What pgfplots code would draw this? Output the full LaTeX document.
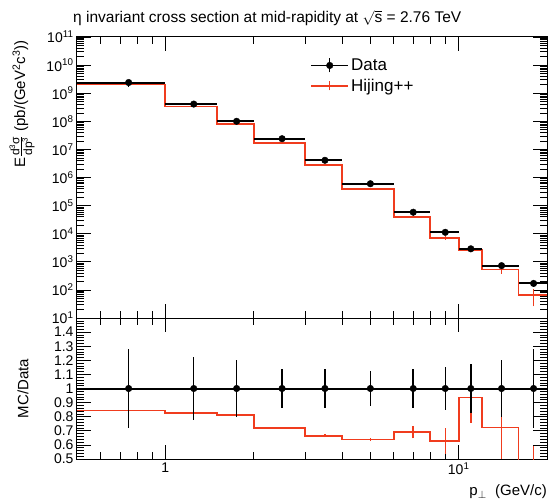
\documentclass[border=0pt]{standalone}
\usepackage{fontspec}
\setmainfont{Liberation Sans}
\usepackage{pgfplots}
\pgfplotsset{compat=1.18}
\definecolor{mcred}{RGB}{240,60,30}
\pgfplotsset{mcerr/.style={mcred, line width=1.5pt, mark=none, forget plot}}
\begin{document}
\begin{tikzpicture}[x=1pt,y=1pt]
\node[anchor=west, font=\fontsize{15.5}{18}\selectfont, inner sep=0pt] at (73pt,-18pt) {η invariant cross section at mid-rapidity at $\sqrt{\mbox{s}}$ = 2.76 TeV};

\begin{axis}[at={(77pt,-37pt)}, anchor=north west,
  scale only axis, width=470pt, height=281pt,
  xmode=log, xmin=0.5, xmax=20,
  ymode=log, ymin=1e1, ymax=1e11,
  tick align=inside, xtick pos=both, ytick pos=both,
  major tick length=14pt, minor tick length=7pt,
  axis line style={line width=1pt},
  every major tick/.append style={black, line width=0.8pt},
  every minor tick/.append style={black, line width=0.6pt},
  xtick={1,10}, minor xtick={0.6,0.7,0.8,0.9,2,3,4,5,6,7,8,9},
  xticklabels={,},
  tick label style={font=\fontsize{14}{16}\selectfont},
  ytick={1e1,1e2,1e3,1e4,1e5,1e6,1e7,1e8,1e9,1e10,1e11},
  yticklabels={10\textsuperscript{1},10\textsuperscript{2},10\textsuperscript{3},10\textsuperscript{4},10\textsuperscript{5},10\textsuperscript{6},10\textsuperscript{7},10\textsuperscript{8},10\textsuperscript{9},10\textsuperscript{10},10\textsuperscript{11}},
  minor ytick={2e1,3e1,4e1,5e1,6e1,7e1,8e1,9e1,
    2e2,3e2,4e2,5e2,6e2,7e2,8e2,9e2,
    2e3,3e3,4e3,5e3,6e3,7e3,8e3,9e3,
    2e4,3e4,4e4,5e4,6e4,7e4,8e4,9e4,
    2e5,3e5,4e5,5e5,6e5,7e5,8e5,9e5,
    2e6,3e6,4e6,5e6,6e6,7e6,8e6,9e6,
    2e7,3e7,4e7,5e7,6e7,7e7,8e7,9e7,
    2e8,3e8,4e8,5e8,6e8,7e8,8e8,9e8,
    2e9,3e9,4e9,5e9,6e9,7e9,8e9,9e9,
    2e10,3e10,4e10,5e10,6e10,7e10,8e10,9e10},
  ylabel={E$\frac{\mbox{\fontsize{12}{12}\selectfont d\textsuperscript{3}σ}}{\mbox{\fontsize{12}{12}\selectfont dp\textsuperscript{3}}}$ (pb/(GeV\textsuperscript{2}c\textsuperscript{3}))},
  ylabel style={at={(axis description cs:-0.117,1)}, anchor=east, font=\fontsize{15}{17}\selectfont},
  legend style={at={(axis description cs:0.496,0.93)}, anchor=north west, draw=none, fill=none,
    font=\fontsize{17}{19}\selectfont, row sep=3pt, inner sep=0pt},
  legend cell align=left,
]
% MC histogram
\addplot[const plot, mcred, line width=1.8pt, forget plot] coordinates {
 (0.5,2.03e9) (1,3.38e8) (1.5,8.1e7) (2,1.73e7) (3,2.73e6) (4,3.83e5)
 (6,4.0e4) (8,7.0e3) (10,2.71e3) (12,5.3e2) (16,66) (20,66)};
% MC statistical errors
\addplot[mcerr] coordinates {(7,3.72e4) (7,4.28e4)};
\addplot[mcerr] coordinates {(9,6.0e3) (9,8.0e3)};
\addplot[mcerr] coordinates {(11,2.21e3) (11,3.21e3)};
\addplot[mcerr] coordinates {(14,380) (14,680)};
\addplot[mcerr] coordinates {(18,26) (18,106)};
% Data horizontal (bin width)
\addplot[black, only marks, mark=*, mark options={opacity=0}, forget plot,
  error bars/.cd, x dir=both, x explicit, error mark=none,
  error bar style={line width=2pt, black}] coordinates {
 (0.75,2.4e9) +- (0.25,0)
 (1.25,4.1e8) +- (0.25,0)
 (1.75,1.0e8) +- (0.25,0)
 (2.5,2.4e7) +- (0.5,0)
 (3.5,4.1e6) +- (0.5,0)
 (5,6.0e5) +- (1,0)
 (7,5.8e4) +- (1,0)
 (9,1.12e4) +- (1,0)
 (11,2.9e3) +- (1,0)
 (14,730) +- (2,0)
 (18,170) +- (2,0)};
% Data points with vertical errors
\addplot[black, only marks, mark=*, mark size=3.3pt, forget plot,
  error bars/.cd, y dir=both, y explicit, error mark=none,
  error bar style={line width=1.5pt, black}] coordinates {
 (0.75,2.4e9) +- (0,6.7e8)
 (1.25,4.1e8) +- (0,9.0e7)
 (1.75,1.0e8) +- (0,2.0e7)
 (2.5,2.4e7) +- (0,3.2e6)
 (3.5,4.1e6) +- (0,5.5e5)
 (5,6.0e5) +- (0,7.5e4)
 (7,5.8e4) +- (0,8.1e3)
 (9,1.12e4) +- (0,1.7e3)
 (11,2.9e3) +- (0,5.1e2)
 (14,730) +- (0,146)
 (18,170) +- (0,48)};
\addlegendimage{legend image code/.code={
  \draw[black, line width=1.8pt] (0pt,0pt) -- (37pt,0pt);
  \draw[black, line width=1.5pt] (18.5pt,-7pt) -- (18.5pt,7pt);
  \fill[black] (18.5pt,0pt) circle (3.3pt);}}
\addlegendentry{Data}
\addlegendimage{legend image code/.code={
  \draw[mcred, line width=1.8pt] (0pt,0pt) -- (37pt,0pt);
  \draw[mcred, line width=1.3pt] (18.5pt,-4.5pt) -- (18.5pt,4.5pt);}}
\addlegendentry{Hijing++}
\end{axis}

\begin{axis}[at={(77pt,-318pt)}, anchor=north west,
  scale only axis, width=470pt, height=141pt,
  xmode=log, xmin=0.5, xmax=20,
  ymin=0.5, ymax=1.5,
  tick align=inside, xtick pos=both, ytick pos=both,
  major tick length=14pt, minor tick length=7pt,
  axis line style={line width=1pt},
  every major tick/.append style={black, line width=0.8pt},
  every minor tick/.append style={black, line width=0.6pt},
  xtick={1,10}, minor xtick={0.6,0.7,0.8,0.9,2,3,4,5,6,7,8,9},
  tick label style={font=\fontsize{14}{16}\selectfont},
  ytick={0.5,0.6,0.7,0.8,0.9,1,1.1,1.2,1.3,1.4,1.5},
  yticklabels={0.5,0.6,0.7,0.8,0.9,1,1.1,1.2,1.3,1.4,},
  minor y tick num=4,
  xticklabels={1,\raisebox{-6pt}{10\textsuperscript{1}}},
  xlabel={p$_{\perp}$ \ (GeV/c)},
  xlabel style={at={(axis description cs:1,-0.234)}, anchor=east, inner sep=0pt, font=\fontsize{15}{17}\selectfont},
  ylabel={MC/Data},
  ylabel style={at={(axis description cs:-0.115,0.5)}, anchor=center, font=\fontsize{15}{17}\selectfont},
]
\addplot[const plot, mcred, line width=1.8pt, forget plot] coordinates {
 (0.5,0.844) (1,0.825) (1.5,0.813) (2,0.719) (3,0.665) (4,0.638)
 (6,0.691) (8,0.629) (10,0.936) (12,0.723) (16,0.39) (20,0.39)};
\addplot[mcerr] coordinates {(3.5,0.655) (3.5,0.675)};
\addplot[mcerr] coordinates {(5,0.626) (5,0.650)};
\addplot[mcerr] coordinates {(7,0.646) (7,0.736)};
\addplot[mcerr] coordinates {(9,0.539) (9,0.719)};
\addplot[mcerr] coordinates {(11,0.756) (11,1.116)};
\addplot[mcerr] coordinates {(14,0.503) (14,0.943)};
\addplot[mcerr] coordinates {(18,0.19) (18,0.59)};
\addplot[black, only marks, mark=*, mark options={opacity=0}, forget plot,
  error bars/.cd, x dir=both, x explicit, error mark=none,
  error bar style={line width=2pt, black}] coordinates {
 (0.75,1) +- (0.25,0)
 (1.25,1) +- (0.25,0)
 (1.75,1) +- (0.25,0)
 (2.5,1) +- (0.5,0)
 (3.5,1) +- (0.5,0)
 (5,1) +- (1,0)
 (7,1) +- (1,0)
 (9,1) +- (1,0)
 (11,1) +- (1,0)
 (14,1) +- (2,0)
 (18,1) +- (2,0)};
\addplot[black, only marks, mark=*, mark size=3.3pt, forget plot,
  error bars/.cd, y dir=both, y explicit, error mark=none,
  error bar style={line width=1.5pt, black}] coordinates {
 (0.75,1) +- (0,0.28)
 (1.25,1) +- (0,0.22)
 (1.75,1) +- (0,0.2)
 (2.5,1) +- (0,0.135)
 (3.5,1) +- (0,0.135)
 (5,1) +- (0,0.125)
 (7,1) +- (0,0.14)
 (9,1) +- (0,0.155)
 (11,1) +- (0,0.175)
 (14,1) +- (0,0.2)
 (18,1) +- (0,0.28)};
\end{axis}
\pgfresetboundingbox
\path[use as bounding box] (0pt,0pt) rectangle (548pt,-502pt);
\end{tikzpicture}
\end{document}
